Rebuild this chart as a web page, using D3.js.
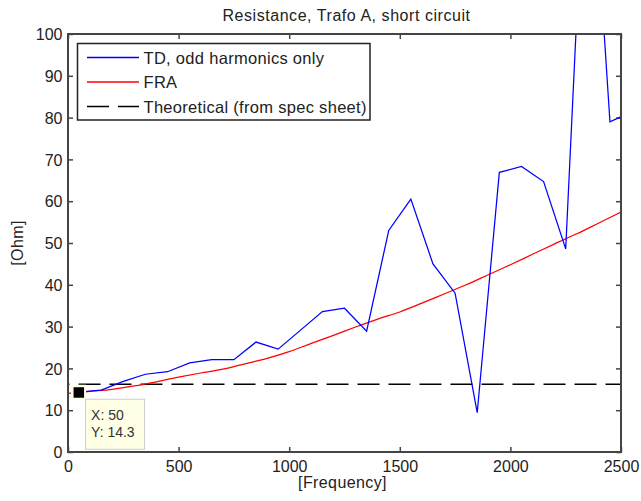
<!DOCTYPE html>
<html>
<head>
<meta charset="utf-8">
<script src="https://cdn.jsdelivr.net/npm/d3@7"></script>
<style>
  html, body { margin: 0; padding: 0; background: #fff; }
  svg { display: block; font-family: "Liberation Sans", Arial, sans-serif; }
</style>
</head>
<body>
<script>
// TD, odd harmonics only
const tdFreq = [50, 150, 250, 350, 450, 550, 650, 750, 850, 950, 1050, 1150, 1250,
  1350, 1450, 1550, 1650, 1750, 1850, 1950, 2050, 2150, 2250, 2350, 2450, 2550];
const tdOhm = [14.3, 14.8, 16.9, 18.6, 19.2, 21.3, 22.1, 22.1, 26.3, 24.6, 29.1, 33.6, 34.4,
  28.9, 53.0, 60.5, 45.0, 38.0, 9.4, 66.9, 68.3, 64.7, 48.6, 160, 79.0, 81.4];

// FRA
const fraFreq = [0, 100, 200, 300, 400, 500, 600, 700, 800, 900, 1000, 1100, 1200,
  1300, 1400, 1500, 1600, 1700, 1800, 1900, 2000, 2100, 2200, 2300, 2400, 2500];
const fraOhm = [14.0, 14.5, 15.0, 15.8, 16.8, 17.9, 18.9, 19.8, 21.1, 22.4, 24.0, 26.0, 27.9,
  29.9, 31.8, 33.5, 35.6, 37.8, 40.0, 42.4, 44.8, 47.3, 49.8, 52.2, 54.8, 57.4];

// theoretical value (spec sheet)
const theoFreq = [0, 2500];
const theoOhm = [16.2, 16.2];

const xTicks = [0, 500, 1000, 1500, 2000, 2500];
const yTicks = [0, 10, 20, 30, 40, 50, 60, 70, 80, 90, 100];

const legendLabels = ['TD, odd harmonics only', 'FRA', 'Theoretical (from spec sheet)'];
const tipPoint = [50, 14.3];

const width = 641;
const height = 501;
const m = { left: 68, right: 20, top: 34, bottom: 49 };

const svg = d3.select('body').append('svg')
    .attr('width', width)
    .attr('height', height);

const x = d3.scaleLinear().domain([0, 2500]).range([m.left, width - m.right]);
const y = d3.scaleLinear().domain([0, 100]).range([height - m.bottom, m.top]);

svg.append('defs').append('clipPath').attr('id', 'plot')
  .append('rect')
    .attr('x', m.left).attr('y', m.top)
    .attr('width', width - m.left - m.right)
    .attr('height', height - m.top - m.bottom);

// title
svg.append('text')
    .attr('x', (x(0) + x(2500)) / 2 + 2)
    .attr('y', 21)
    .attr('text-anchor', 'middle')
    .style('font-size', '16px')
    .style('letter-spacing', '0.55px')
    .style('fill', '#222')
    .text('Resistance, Trafo A, short circuit');

// axes (inward ticks on all four sides)
const axisColor = '#444';
const gx = svg.append('g')
    .attr('transform', `translate(0,${y(0)})`)
    .call(d3.axisBottom(x).tickValues(xTicks).tickSize(-5).tickSizeOuter(0).tickFormat(d3.format('d')));
gx.selectAll('text').attr('y', 20).attr('dy', 0);

const gy = svg.append('g')
    .attr('transform', `translate(${x(0)},0)`)
    .call(d3.axisLeft(y).tickValues(yTicks).tickSize(-5).tickSizeOuter(0));
gy.selectAll('text').attr('x', -5.5).attr('dy', '0.36em');

svg.append('g')
    .attr('transform', `translate(0,${y(100)})`)
    .call(d3.axisTop(x).tickValues(xTicks).tickSize(-5).tickSizeOuter(0).tickFormat(''));
svg.append('g')
    .attr('transform', `translate(${x(2500)},0)`)
    .call(d3.axisRight(y).tickValues(yTicks).tickSize(-5).tickSizeOuter(0).tickFormat(''));

svg.selectAll('.domain').remove();
svg.selectAll('.tick line').attr('stroke', axisColor).attr('stroke-width', 1.5);
svg.selectAll('.tick text')
    .style('font-size', '16px')
    .style('font-family', '"Liberation Sans", Arial, sans-serif')
    .attr('fill', '#222');

// axis labels
svg.append('text')
    .attr('x', (x(0) + x(2500)) / 2 - 2)
    .attr('y', 488)
    .attr('text-anchor', 'middle')
    .style('font-size', '16px')
    .style('letter-spacing', '0.4px')
    .style('fill', '#222')
    .text('[Frequency]');

svg.append('text')
    .attr('transform', `translate(23,${(y(0) + y(100)) / 2}) rotate(-90)`)
    .attr('text-anchor', 'middle')
    .style('font-size', '16px')
    .style('letter-spacing', '0.4px')
    .style('fill', '#222')
    .text('[Ohm]');

// lines
const plot = svg.append('g').attr('clip-path', 'url(#plot)');
const line = d3.line().x(d => x(d[0])).y(d => y(d[1]));

plot.append('path')
    .datum(theoFreq.map((f, i) => [f, theoOhm[i]]))
    .attr('d', line)
    .attr('fill', 'none')
    .attr('stroke', '#000')
    .attr('stroke-width', 1.6)
    .attr('stroke-dasharray', '22,9')
    .attr('stroke-dashoffset', 20.5);

plot.append('path')
    .datum(fraFreq.map((f, i) => [f, fraOhm[i]]))
    .attr('d', line.curve(d3.curveMonotoneX))
    .attr('fill', 'none')
    .attr('stroke', '#ff0000')
    .attr('stroke-width', 1.25);

plot.append('path')
    .datum(tdFreq.map((f, i) => [f, tdOhm[i]]))
    .attr('d', line.curve(d3.curveLinear))
    .attr('fill', 'none')
    .attr('stroke', '#0000ff')
    .attr('stroke-width', 1.25);

// frame
svg.append('rect')
    .attr('x', x(0)).attr('y', y(100))
    .attr('width', x(2500) - x(0))
    .attr('height', y(0) - y(100))
    .attr('fill', 'none')
    .attr('stroke', axisColor)
    .attr('stroke-width', 2);

// legend
const lg = svg.append('g');
lg.append('rect')
    .attr('x', 77.5).attr('y', 43.5)
    .attr('width', 292.5).attr('height', 76.5)
    .attr('fill', '#fff')
    .attr('stroke', '#222')
    .attr('stroke-width', 1.5);

const legendColors = ['#0000ff', '#ff0000', '#000000'];
const legendDash = ['none', 'none', '22,9'];
legendLabels.forEach((label, i) => {
  const ly = 57.5 + i * 24.5;
  lg.append('line')
      .attr('x1', 87).attr('x2', 139)
      .attr('y1', ly).attr('y2', ly)
      .style('stroke', legendColors[i])
      .style('stroke-width', 1.3)
      .style('stroke-dasharray', legendDash[i]);
  lg.append('text')
      .attr('x', 143.5)
      .attr('y', ly + 6)
      .style('font-size', '16.5px')
      .style('letter-spacing', '0.3px')
      .style('fill', '#222')
      .text(label);
});

// data tip
const tx = x(tipPoint[0]);
const ty = y(tipPoint[1]);
svg.append('rect')
    .attr('x', tx - 8).attr('y', ty - 7.5)
    .attr('width', 15).attr('height', 15)
    .attr('fill', '#ffffe6');
svg.append('rect')
    .attr('x', tx - 5.5).attr('y', ty - 5)
    .attr('width', 10.5).attr('height', 10.5)
    .attr('fill', '#000');

const tip = svg.append('g').attr('transform', `translate(${tx + 6},${ty + 6.5})`);
tip.append('rect')
    .attr('x', 0.5).attr('y', 0.5)
    .attr('width', 59).attr('height', 50)
    .attr('fill', '#ffffe6')
    .attr('stroke', '#ccc')
    .attr('stroke-width', 1);
tip.append('text')
    .attr('x', 6).attr('y', 21)
    .style('font-size', '14px')
    .style('fill', '#333')
    .text('X: ' + tipPoint[0]);
tip.append('text')
    .attr('x', 6).attr('y', 38.5)
    .style('font-size', '14px')
    .style('fill', '#333')
    .text('Y: ' + tipPoint[1]);
</script>
</body>
</html>
